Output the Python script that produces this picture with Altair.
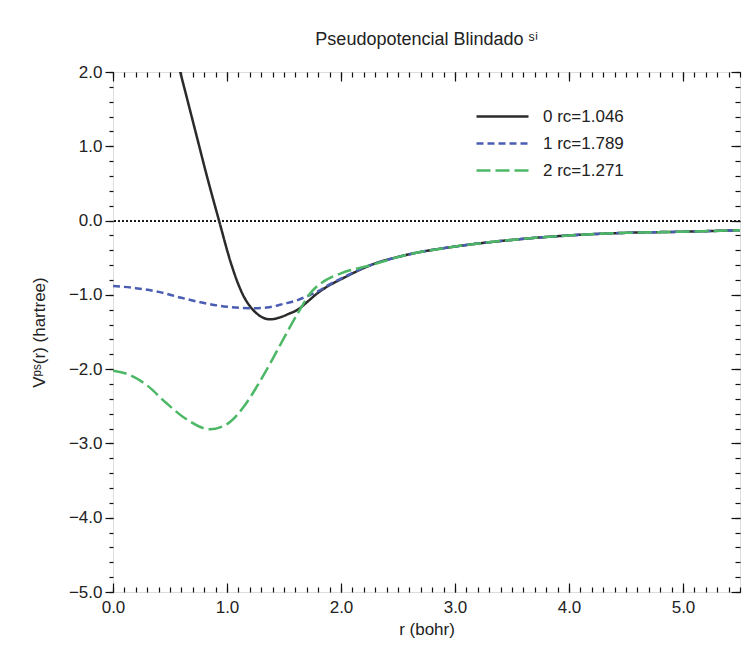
import altair as alt
import pandas as pd

# ---- data ----
r_tail = [2.26, 2.58, 3.0, 3.5, 4.0, 4.5, 5.0, 5.5]
v_tail = [-0.60, -0.46, -0.35, -0.26, -0.20, -0.165, -0.15, -0.13]

r0 = [0.55, 0.59, 0.65, 0.74, 0.82, 0.93, 1.03, 1.10, 1.15, 1.20, 1.26, 1.32,
      1.38, 1.45, 1.55, 1.62, 1.70, 1.80, 1.90, 2.00]
v0 = [2.25, 2.00, 1.64, 1.10, 0.62, 0.00, -0.55, -0.86, -1.03, -1.15, -1.25, -1.31,
      -1.33, -1.31, -1.25, -1.20, -1.10, -0.97, -0.87, -0.79]

r1 = [0.0, 0.2, 0.4, 0.6, 0.8, 1.0, 1.2, 1.35, 1.5, 1.62, 1.7, 1.8, 1.9, 2.0]
v1 = [-0.88, -0.91, -0.96, -1.04, -1.11, -1.16, -1.18, -1.17, -1.12, -1.07,
      -1.02, -0.95, -0.86, -0.78]

r2 = [0.0, 0.15, 0.3, 0.47, 0.65, 0.85, 1.0, 1.15, 1.26, 1.38, 1.5, 1.62,
      1.73, 1.88, 2.0]
v2 = [-2.02, -2.08, -2.22, -2.46, -2.68, -2.81, -2.74, -2.50, -2.24, -1.92,
      -1.58, -1.25, -0.98, -0.79, -0.71]

labels = ["0 rc=1.046", "1 rc=1.789", "2 rc=1.271"]
colors = ["#2b2b2b", "#4a5db3", "#4cb865"]
dashes = [[1, 0], [7, 4], [14, 5]]

x_major = [0, 1, 2, 3, 4, 5]
x_minor = [round(i * 0.1, 1) for i in range(0, 56)]
y_major = [2, 1, 0, -1, -2, -3, -4, -5]
y_minor = [round(-5 + i * 0.2, 1) for i in range(0, 36)]

rows = []
for lab, rr, vv in zip(labels, [r0, r1, r2], [v0, v1, v2]):
    for a, b in zip(rr + r_tail, vv + v_tail):
        rows.append({"r": a, "V": b, "serie": lab, "order": labels.index(lab)})
df = pd.DataFrame(rows)

FONT = "Liberation Sans"
xs = alt.Scale(domain=[0, 5.5], nice=False, zero=False)
ys = alt.Scale(domain=[-5, 2], nice=False, zero=False)

def ax(orient, values, size, **kw):
    d = dict(orient=orient, values=values, grid=False, domain=False,
             labels=False, ticks=True, tickColor="#111", tickWidth=1.2,
             title=None)
    if size < 0:
        d["tickSize"] = {"expr": str(size)}
    else:
        d["tickSize"] = size
    d.update(kw)
    return alt.Axis(**d)

legend = alt.Legend(title=None, orient="none", legendX=362, legendY=33,
                    symbolType="M-1,0H4.2", symbolSize=400, symbolStrokeWidth=2.5,
                    labelFont=FONT, labelFontSize=17, labelColor="#222",
                    labelOffset=45, rowPadding=7)

lines = alt.Chart(df).mark_line(strokeWidth=2.5, interpolate="monotone", clip=True).encode(
    x=alt.X("r:Q", scale=xs,
            axis=alt.Axis(orient="bottom", values=x_major, format=".1f", ticks=False,
                          grid=False, domain=False, labelFont=FONT, labelFontSize=17,
                          labelColor="#222", labelPadding=7, labelFlush=False,
                          title="r (bohr)", titleFont=FONT, titleFontSize=17,
                          titleFontWeight="normal", titleColor="#222", titlePadding=6)),
    y=alt.Y("V:Q", scale=ys,
            axis=alt.Axis(orient="left", values=y_major, format=".1f", ticks=True,
                          tickSize=8, tickColor="#111", tickWidth=1.2,
                          grid=False, domain=False, labelFont=FONT, labelFontSize=17,
                          labelColor="#222", labelPadding=3, labelFlush=False,
                          title="Vᵖˢ(r)   (hartree)", titleFont=FONT, titleFontSize=17,
                          titleFontWeight="normal", titleColor="#222", titlePadding=20)),
    color=alt.Color("serie:N", scale=alt.Scale(domain=labels, range=colors), legend=legend),
    strokeDash=alt.StrokeDash("serie:N", scale=alt.Scale(domain=labels, range=dashes), legend=legend),
    order="order:Q",
)

def ghost(xaxis, yaxis):
    return alt.Chart(df).mark_line(opacity=0).encode(
        x=alt.X("r:Q", scale=xs, axis=xaxis),
        y=alt.Y("V:Q", scale=ys, axis=yaxis),
    )

g2 = ghost(ax("bottom", x_minor, -5), ax("left", y_minor, 4))
g3 = ghost(ax("bottom", x_major, -9), ax("right", y_major, -9))
g4 = ghost(ax("top", x_major, -9), ax("right", y_minor, -5))
g5 = ghost(ax("top", x_minor, -5), None)

zero = alt.Chart(df).mark_rule(color="#222", strokeWidth=0.8, strokeDash=[2, 2]).encode(
    y=alt.Y(datum=0, scale=ys, axis=None)
)

chart = alt.layer(zero, lines, g2, g3, g4, g5).resolve_axis(
    x="independent", y="independent"
).properties(
    width=627, height=520,
    autosize=alt.AutoSizeParams(type="none"),
    padding={"left": 113, "top": 72, "right": 4, "bottom": 65},
    title=alt.Title("Pseudopotencial Blindado ˢⁱ", font=FONT, fontSize=18,
                    fontWeight="normal", color="#222", offset=4, anchor="middle"),
).configure_view(stroke="#111", strokeWidth=1.5).configure(background="white")

chart.save("out.html", embed_options={"renderer": "svg", "actions": False})
